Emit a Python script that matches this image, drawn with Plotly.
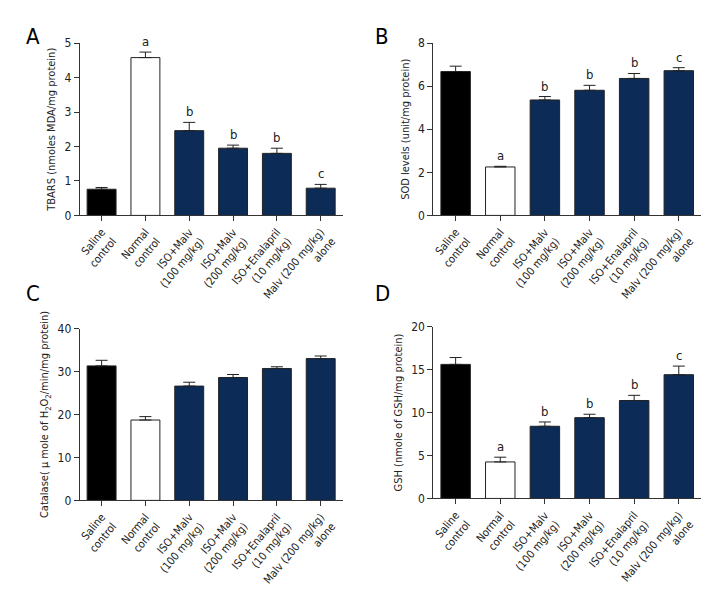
import plotly.graph_objects as go

categories = ["Saline<br>control", "Normal<br>control", "ISO+Malv<br>(100 mg/kg)",
              "ISO+Malv<br>(200 mg/kg)", "ISO+Enalapril<br>(10 mg/kg)", "Malv (200 mg/kg)<br>alone"]

tbars_mean = [0.76, 4.58, 2.46, 1.95, 1.80, 0.79]
tbars_top = [0.81, 4.74, 2.70, 2.04, 1.95, 0.90]
tbars_sig = ["", "a", "b", "b", "b", "c"]

sod_mean = [6.68, 2.25, 5.36, 5.81, 6.36, 6.72]
sod_top = [6.93, 2.28, 5.52, 6.04, 6.59, 6.86]
sod_sig = ["", "a", "b", "b", "b", "c"]

cat_mean = [31.3, 18.7, 26.6, 28.6, 30.7, 33.0]
cat_top = [32.6, 19.5, 27.5, 29.3, 31.1, 33.6]
cat_sig = ["", "", "", "", "", ""]

gsh_mean = [15.6, 4.25, 8.4, 9.4, 11.4, 14.4]
gsh_top = [16.4, 4.8, 8.9, 9.8, 12.0, 15.4]
gsh_sig = ["", "a", "b", "b", "b", "c"]

NAVY = "#0c2b57"
fills = ["#000000", "#ffffff", NAVY, NAVY, NAVY, NAVY]
FONT = "DejaVu Sans Condensed, Liberation Sans, Arial, sans-serif"

panels = [
    ("A", tbars_mean, tbars_top, tbars_sig, "TBARS (nmoles MDA/mg protein)", [0, 5], 1,
     [0.0958, 0.4625], [0.658, 0.952], (22, 22)),
    ("B", sod_mean, sod_top, sod_sig, "SOD levels (unit/mg protein)", [0, 8], 2,
     [0.589, 0.9625], [0.658, 0.952], (373, 22)),
    ("C", cat_mean, cat_top, cat_sig,
     "Catalase( μ mole of H<sub>2</sub>O<sub>2</sub>/min/mg protein)", [0, 40], 10,
     [0.0958, 0.4625], [0.1717, 0.465], (22, 285)),
    ("D", gsh_mean, gsh_top, gsh_sig, "GSH (nmole of GSH/mg protein)", [0, 20], 5,
     [0.589, 0.9625], [0.175, 0.4683], (373, 285)),
]

fig = go.Figure()
annotations = []
for i, (lab, mean, top, sig, title, yr, dt, xd, yd, lpos) in enumerate(panels):
    n = i + 1
    xa = "x" if n == 1 else f"x{n}"
    ya = "y" if n == 1 else f"y{n}"
    err = [t - m for t, m in zip(top, mean)]
    xs = list(range(len(categories)))
    fig.add_trace(go.Bar(
        x=xs, y=mean, xaxis=xa, yaxis=ya, width=0.66,
        marker=dict(color=fills, line=dict(color="#222222", width=1)),
        error_y=dict(type="data", symmetric=False, array=err, arrayminus=[0] * len(err),
                     color="#222222", thickness=1, width=6),
        showlegend=False, hoverinfo="skip"))
    axkey = "xaxis" if n == 1 else f"xaxis{n}"
    aykey = "yaxis" if n == 1 else f"yaxis{n}"
    fig.update_layout(**{
        axkey: dict(domain=xd, anchor=ya, range=[-0.5, 5.5], tickmode="array",
                    tickvals=xs, ticktext=categories, tickangle=-50,
                    showline=True, linecolor="#333333", linewidth=1,
                    ticks="outside", ticklen=5, tickcolor="#333333",
                    showgrid=False, zeroline=False,
                    tickfont=dict(family=FONT, size=11, color="#222222")),
        aykey: dict(domain=yd, anchor=xa, range=yr, dtick=dt,
                    showline=True, linecolor="#333333", linewidth=1,
                    ticks="outside", ticklen=5, tickcolor="#333333",
                    showgrid=False, zeroline=False,
                    tickfont=dict(family=FONT, size=12, color="#222222"),
                    title=dict(text=title, standoff=6,
                               font=dict(family=FONT, size=11, color="#222222"))),
    })
    for j, s in enumerate(sig):
        if s:
            annotations.append(dict(x=j, y=top[j], xref=xa, yref=ya, text=s,
                                    showarrow=False, yanchor="bottom", yshift=1,
                                    font=dict(family=FONT, size=13, color="#222222")))
    annotations.append(dict(x=lpos[0] / 720, y=1 - lpos[1] / 600, xref="paper", yref="paper",
                            text=lab, showarrow=False, xanchor="center", yanchor="middle",
                            font=dict(family=FONT, size=22, color="#000000")))

fig.update_layout(width=720, height=600, margin=dict(l=0, r=0, t=0, b=0),
                  paper_bgcolor="white", plot_bgcolor="white",
                  annotations=annotations, bargap=0.3)
fig.write_html("out.html")
